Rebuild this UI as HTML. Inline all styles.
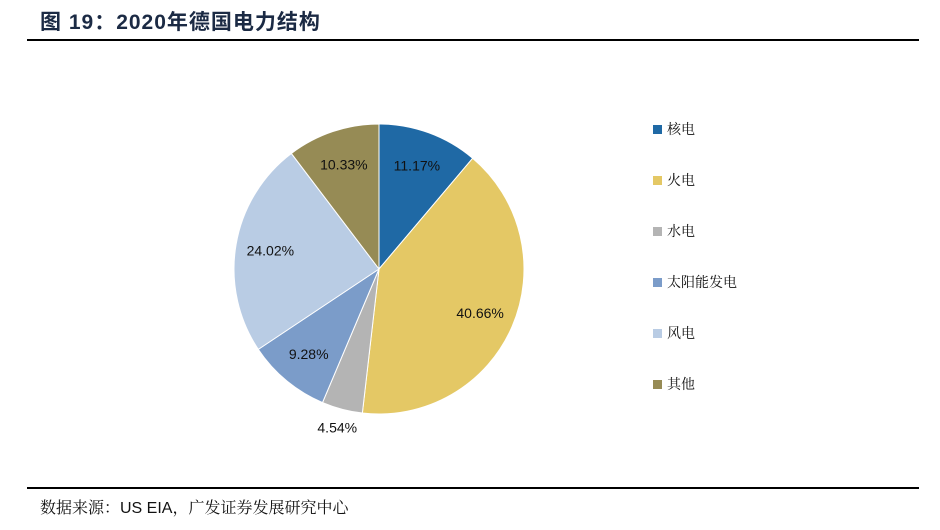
<!DOCTYPE html>
<html><head><meta charset="utf-8">
<style>
body{margin:0;width:940px;height:530px;background:#fff;position:relative;overflow:hidden;font-family:"Liberation Sans","Noto Sans CJK SC",sans-serif;}
#title{position:absolute;left:40px;top:6px;font-size:21px;font-weight:bold;color:#1b2a44;letter-spacing:1px;white-space:nowrap;}
.rule{position:absolute;left:27px;width:892px;height:2px;background:#000;}
#source{position:absolute;left:40px;top:495px;font-size:16px;color:#111;white-space:nowrap;font-family:"Liberation Sans","Noto Serif CJK SC",serif;}
.leg{position:absolute;left:653px;font-size:14px;color:#111;font-family:"Liberation Serif","Noto Serif CJK SC",serif;white-space:nowrap;line-height:18px;}
.leg span{display:inline-block;width:9px;height:9px;margin-right:5px;vertical-align:0px;}
</style></head><body>
<div id="title">图 19：2020年德国电力结构</div>
<div class="rule" style="top:39px"></div>
<svg id="pie" width="940" height="530" style="position:absolute;left:0;top:0"></svg>
<div id="legend"></div>
<div class="rule" style="top:487px"></div>
<div id="source">数据来源：US EIA，广发证券发展研究中心</div>
<script>
const categories=["核电","火电","水电","太阳能发电","风电","其他"];
const values=[11.17,40.66,4.54,9.28,24.02,10.33];
const labels=["11.17%","40.66%","4.54%","9.28%","24.02%","10.33%"];
const colors=["#1f69a5","#e4c865","#b4b4b4","#7b9cc9","#b9cce4","#968b55"];
const cx=379,cy=269,r=145;
const svg=document.getElementById('pie');
const NS="http://www.w3.org/2000/svg";
const total=values.reduce((a,b)=>a+b,0);
let acc=0;
function pt(frac,rad){const a=frac*2*Math.PI;return [cx+rad*Math.sin(a),cy-rad*Math.cos(a)];}
values.forEach((v,i)=>{
  const f0=acc/total,f1=(acc+v)/total;acc+=v;
  const p0=pt(f0,r),p1=pt(f1,r);
  const large=(f1-f0)>0.5?1:0;
  const path=document.createElementNS(NS,'path');
  path.setAttribute('d',`M${cx},${cy}L${p0[0]},${p0[1]}A${r},${r} 0 ${large} 1 ${p1[0]},${p1[1]}Z`);
  path.setAttribute('fill',colors[i]);
  path.setAttribute('stroke','#fff');
  path.setAttribute('stroke-width','1');
  
  
  svg.appendChild(path);
  const mid=(f0+f1)/2;
  const outside=(f1-f0)<0.06;
  const lp=pt(mid,outside?r*1.13:r*0.76);
  const t=document.createElementNS(NS,'text');
  t.setAttribute('x',lp[0]);t.setAttribute('y',lp[1]+5);
  t.setAttribute('text-anchor','middle');
  t.setAttribute('font-size','14');
  t.setAttribute('font-family','Liberation Sans, sans-serif');
  t.setAttribute('fill','#111');
  
  
  t.textContent=labels[i];
  svg.appendChild(t);
});
const leg=document.getElementById('legend');
categories.forEach((c,i)=>{
  const d=document.createElement('div');
  d.className='leg';
  d.style.top=(122+i*51)+'px';
  
  
  d.innerHTML='<span style="background:'+colors[i]+'"></span>'+c;
  leg.appendChild(d);
});
</script>
</body></html>
